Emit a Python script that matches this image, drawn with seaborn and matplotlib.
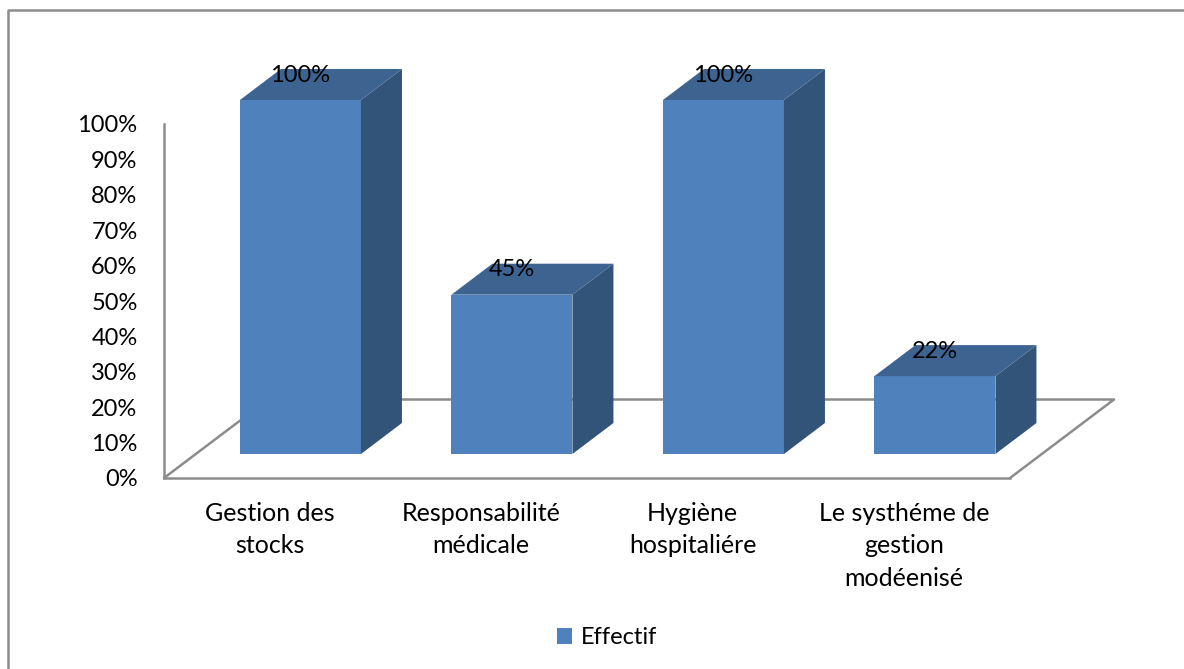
import matplotlib
matplotlib.use('Agg')
import matplotlib.pyplot as plt
from matplotlib.lines import Line2D
from matplotlib.patches import Polygon
import seaborn as sns

categories = ['Gestion des\nstocks', 'Responsabilité\nmédicale', 'Hygiène\nhospitaliére',
              'Le systhéme de\ngestion\nmodéenisé']
values = [100, 45, 100, 22]
yticks = list(range(0, 101, 10))
series_name = 'Effectif'

W, H = 1184, 669
FRONT, TOP, SIDE = '#4F81BD', '#3D6391', '#335479'
GREY = '#8C8C8C'

sns.set_theme(style='white')
plt.rcParams['font.family'] = ['Lato', 'DejaVu Sans']
plt.rcParams.update({'font.size': 17, 'xtick.labelsize': 18, 'ytick.labelsize': 17,
                     'legend.fontsize': 17})

fig = plt.figure(figsize=(W / 100, H / 100), dpi=100, facecolor='white')


def px_axes(left, top, right, bottom):
    return fig.add_axes([left / W, 1 - bottom / H, (right - left) / W, (bottom - top) / H])


# chart border, only top and left show in the picture
fig.add_artist(Line2D([8 / W, 8 / W, 1], [0, 1 - 10 / H, 1 - 10 / H], color=GREY, lw=1.8))

# axes and floor
base = px_axes(164, 124, 1010, 478)
base.set_xlim(-0.5, 3.5)
base.set_ylim(0, 100)
base.set_yticks(yticks)
base.set_yticklabels([f'{t}%' for t in yticks])
base.set_xticks(range(len(categories)))
base.set_xticklabels(categories, linespacing=1.5)
base.tick_params(axis='both', length=0, labelcolor='black')
base.tick_params(axis='y', pad=19)
base.tick_params(axis='x', pad=17)
for s in ['top', 'right']:
    base.spines[s].set_visible(False)
for s in ['left', 'bottom']:
    base.spines[s].set_color(GREY)
    base.spines[s].set_linewidth(1.8)
floor_dx, floor_dy = 104 / 211.5, 78.5 / 3.54
base.plot([-0.5, -0.5 + floor_dx, 3.5 + floor_dx, 3.5], [0, floor_dy, floor_dy, 0],
          color=GREY, lw=1.8, clip_on=False)

# bars, front face through seaborn, depth faces from the bar patches
ax = px_axes(194.7, 100, 1040.7, 454)
ax.patch.set_alpha(0)
sns.barplot(x=list(range(len(values))), y=values, color=FRONT, width=121 / 211.5,
            saturation=1, label=series_name, legend=False, linewidth=0, ax=ax, zorder=3)
ax.set_xlim(-0.5, 3.5)
ax.set_ylim(0, 100)
ax.axis('off')

dx, dy = 41 / 211.5, 31 / 3.54
bars = list(ax.patches)
for bar, val in zip(bars, values):
    x0, x1 = bar.get_x(), bar.get_x() + bar.get_width()
    ax.add_patch(Polygon([(x1, 0), (x1 + dx, dy), (x1 + dx, val + dy), (x1, val)],
                         fc=SIDE, ec='none', clip_on=False, zorder=3))
    ax.add_patch(Polygon([(x0, val), (x0 + dx, val + dy), (x1 + dx, val + dy), (x1, val)],
                         fc=TOP, ec='none', clip_on=False, zorder=3))
    ax.annotate(f'{val}%', ((x0 + x1) / 2, val), xytext=(0, 25), textcoords='offset pixels',
                ha='center', va='center', color='black', annotation_clip=False, zorder=4)

fig.legend([bars[0]], [series_name], loc='center', bbox_to_anchor=(607 / W, 1 - 638 / H),
           frameon=False, handlelength=0.64, handleheight=0.64, handletextpad=0.35,
           labelcolor='black')

fig.savefig('out.png', dpi=100)
plt.close()
